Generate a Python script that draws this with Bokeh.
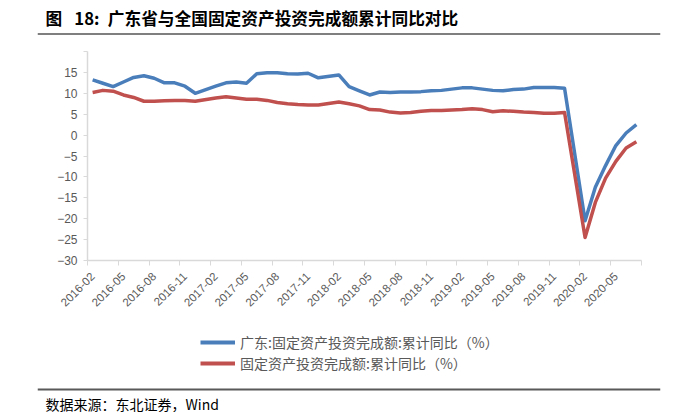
from math import pi
from bokeh.plotting import figure
from bokeh.layouts import column
from bokeh.models import (Range1d, FixedTicker, Label, Span, Legend, LegendItem)
from bokeh.embed import file_html
from bokeh.resources import INLINE

# ---- data ----
months = [
    "2016-02", "2016-03", "2016-04", "2016-05", "2016-06", "2016-07", "2016-08", "2016-09", "2016-10", "2016-11", "2016-12",
    "2017-02", "2017-03", "2017-04", "2017-05", "2017-06", "2017-07", "2017-08", "2017-09", "2017-10", "2017-11", "2017-12",
    "2018-02", "2018-03", "2018-04", "2018-05", "2018-06", "2018-07", "2018-08", "2018-09", "2018-10", "2018-11", "2018-12",
    "2019-02", "2019-03", "2019-04", "2019-05", "2019-06", "2019-07", "2019-08", "2019-09", "2019-10", "2019-11", "2019-12",
    "2020-02", "2020-03", "2020-04", "2020-05", "2020-06", "2020-07",
]
guangdong = [
    13.2, 12.4, 11.6, 12.7, 13.8, 14.2, 13.6, 12.5, 12.5, 11.7, 10.0,
    11.7, 12.5, 12.7, 12.4, 14.7, 14.9, 14.9, 14.7, 14.6, 14.8, 13.7,
    14.4, 11.6, 10.6, 9.6, 10.3, 10.2, 10.3, 10.3, 10.4, 10.6, 10.7,
    11.3, 11.3, 11.0, 10.7, 10.6, 10.9, 11.0, 11.4, 11.4, 11.4, 11.2,
    -20.5, -12.5, -7.3, -2.5, 0.5, 2.5,
]
national = [
    10.2, 10.7, 10.5, 9.6, 9.0, 8.1, 8.1, 8.2, 8.3, 8.3, 8.1,
    8.9, 9.2, 8.9, 8.6, 8.6, 8.3, 7.8, 7.5, 7.3, 7.2, 7.2,
    7.9, 7.5, 7.0, 6.1, 6.0, 5.5, 5.3, 5.4, 5.7, 5.9, 5.9,
    6.1, 6.3, 6.1, 5.6, 5.8, 5.7, 5.5, 5.4, 5.2, 5.2, 5.4,
    -24.5, -16.1, -10.3, -6.3, -3.1, -1.6,
]
tick_labels = ["2016-02", "2016-05", "2016-08", "2016-11", "2017-02", "2017-05", "2017-08", "2017-11",
               "2018-02", "2018-05", "2018-08", "2018-11", "2019-02", "2019-05", "2019-08", "2019-11",
               "2020-02", "2020-05"]
y_ticks = [-30, -25, -20, -15, -10, -5, 0, 5, 10, 15, 20]
series_names = ["广东:固定资产投资完成额:累计同比（%）", "固定资产投资完成额:累计同比（%）"]
title_text = "图\u2002 18:\u2002广东省与全国固定资产投资完成额累计同比对比"
source_text = "数据来源：东北证券，Wind"

def month_index(s):
    y, m = s.split("-")
    return (int(y) - 2016) * 12 + (int(m) - 2)

xs = [month_index(m) for m in months]
n_cat = month_index("2020-07") + 1
label_pos = [month_index(t) for t in tick_labels]
y_lo, y_hi = -30, 20

# ---- geometry (page pixels) ----
W = 696
FL, FR = 37, 660            # rule / text block left/right
AX_L, AX_R = 87, 641        # plotting area left/right
AX_T, AX_B = 51, 260        # plotting area top/bottom
TOP_H = 40                  # header height
MAIN_H = 280                # main chart height (page 40..320)
BOT_H = 412 - TOP_H - MAIN_H
BOT_Y0 = TOP_H + MAIN_H

axis_col = "#d9d9d9"
lab_col = "#595959"
tick_font = "Liberation Sans"
cjk = "Noto Sans CJK SC"
blue = "#4a7ebb"
red = "#c0504d"


def deco_fig(h):
    f = figure(width=W, height=h, output_backend="svg", toolbar_location=None,
               x_range=Range1d(FL, FR), y_range=Range1d(h, 0), frame_align=False)
    f.min_border_left = FL
    f.min_border_right = W - FR
    f.min_border_top = 0
    f.min_border_bottom = 0
    f.axis.visible = False
    f.grid.visible = False
    f.outline_line_color = None
    return f

# ---- header ----
top = deco_fig(TOP_H)
top.add_layout(Label(x=45, y=17, text=title_text, text_font=cjk, text_font_style="bold",
                     text_font_size="16.7px", text_color="#000000", text_baseline="middle"))
top.add_layout(Span(location=33.5, dimension="width", line_color="#7f7f7f", line_width=2))

# ---- main chart ----
p = figure(width=W, height=MAIN_H, output_backend="svg", toolbar_location=None,
           x_range=Range1d(-0.5, n_cat - 0.5), y_range=Range1d(y_lo, y_hi), frame_align=False)
p.min_border_left = AX_L
p.min_border_right = W - AX_R
p.min_border_top = AX_T - TOP_H
p.min_border_bottom = TOP_H + MAIN_H - AX_B
p.outline_line_color = None
p.xgrid.visible = False
p.ygrid.visible = False

xa = p.xaxis[0]
xa.ticker = FixedTicker(ticks=label_pos, minor_ticks=[-0.5 + 3 * k for k in range(n_cat // 3 + 1)])
xa.major_label_overrides = {pos: lab for pos, lab in zip(label_pos, tick_labels)}
xa.major_label_orientation = pi / 4
xa.major_tick_line_color = None
xa.minor_tick_line_color = axis_col
xa.minor_tick_out = 5
xa.minor_tick_in = 0
xa.axis_line_color = axis_col
xa.axis_line_width = 1.5
xa.major_label_text_color = lab_col
xa.major_label_text_font = tick_font
xa.major_label_text_font_size = "11.5px"
xa.major_label_standoff = 8

ya = p.yaxis[0]
ya.ticker = FixedTicker(ticks=y_ticks)
ya.major_label_overrides = {20: ""}
ya.axis_line_color = axis_col
ya.axis_line_width = 1.5
ya.major_tick_line_color = axis_col
ya.major_tick_out = 4
ya.major_tick_in = 0
ya.minor_tick_line_color = None
ya.major_label_text_color = lab_col
ya.major_label_text_font = tick_font
ya.major_label_text_font_size = "12px"
ya.major_label_standoff = 6

p.line(xs, guangdong, line_color=blue, line_width=3.5, line_join="round")
p.line(xs, national, line_color=red, line_width=3.5, line_join="round")

# ---- footer with legend ----
bot = deco_fig(BOT_H)
k1 = bot.line(xs, guangdong, line_color=blue, line_width=4, visible=False)
k2 = bot.line(xs, national, line_color=red, line_width=4, visible=False)
legend = Legend(items=[LegendItem(label=series_names[0], renderers=[k1]),
                       LegendItem(label=series_names[1], renderers=[k2])],
                location=(200 - FL, BOT_H - (373 - BOT_Y0)), orientation="vertical",
                border_line_color=None, background_fill_alpha=0,
                inactive_fill_alpha=0,
                padding=0, margin=0, spacing=1,
                glyph_width=35, glyph_height=20, label_height=20, label_standoff=5,
                label_text_font=cjk, label_text_font_size="14px",
                label_text_color=lab_col)
bot.add_layout(legend, "center")
bot.add_layout(Span(location=389 - BOT_Y0, dimension="width", line_color="#595959", line_width=2))
bot.add_layout(Label(x=45, y=403 - BOT_Y0, text=source_text, text_font=cjk,
                     text_font_size="14px", text_color="#000000", text_baseline="middle"))

page = column(top, p, bot, spacing=0)
open("out.html", "w").write(file_html(page, INLINE))
